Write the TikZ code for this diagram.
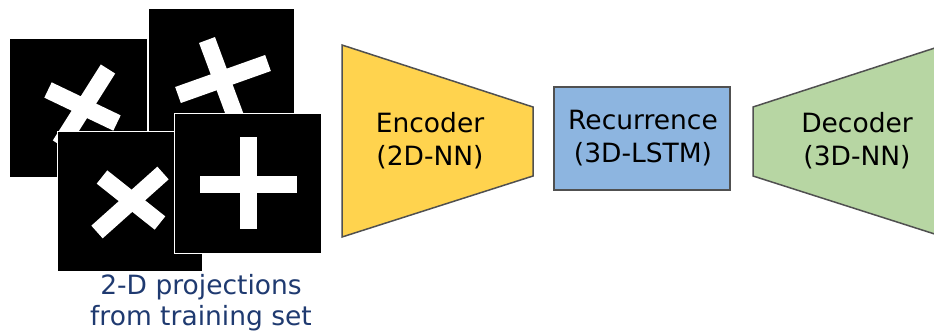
\documentclass[tikz,border=0pt]{standalone}
\usepackage{fontspec}
\setmainfont{DejaVu Sans}
\usepackage{tikz}
\definecolor{EncYellow}{HTML}{FFD34E}
\definecolor{RecBlue}{HTML}{8DB5E0}
\definecolor{DecGreen}{HTML}{B7D6A3}
\definecolor{EdgeGray}{HTML}{505050}
\definecolor{CapBlue}{HTML}{1F3A70}
\tikzset{
  block/.style={draw=EdgeGray, line width=1.5pt},
  label/.style={align=center, font=\fontsize{26.5}{33}\selectfont},
  bar/.style={white, line width=17pt},
  shot/.style={fill=black, draw=white, line width=1pt}
}

\begin{document}
\begin{tikzpicture}[x=1pt,y=-1pt]
\useasboundingbox (0,0) rectangle (934,333);
\clip (0,0) rectangle (934,333);

%%projections
\begin{scope}
\filldraw[shot] (9,38) rectangle (147,177);
\clip (9,38) rectangle (147,177);
\draw[bar] (108,69) -- (60,145);
\draw[bar] (48,90) -- (117,123);
\end{scope}
\begin{scope}
\filldraw[shot] (148,8) rectangle (294,150);
\clip (148,8) rectangle (294,150);
\draw[bar] (207,40) -- (236,118);
\draw[bar] (178,95) -- (268,63);
\end{scope}
\begin{scope}
\filldraw[shot] (57,131) rectangle (202,271);
\clip (57,131) rectangle (202,271);
\draw[bar] (163,173) -- (97,232);
\draw[bar] (102,177) -- (160,223);
\end{scope}
\begin{scope}
\filldraw[shot] (174,113) rectangle (321,253);
\clip (174,113) rectangle (321,253);
\draw[bar] (248,137) -- (248,229);
\draw[bar] (200,184) -- (297,184);
\end{scope}
\node[label, text=CapBlue, font=\fontsize{26.5}{31}\selectfont] (proj) at (201,303) {2-D projections\\from training set};

%%Encoder
\draw[block, fill=EncYellow] (342,45) -- (533,107) -- (533,176) -- (342,237) -- cycle;
\node[label] (enc) at (430,141) {Encoder\\(2D-NN)};

%%Recurrence
\draw[block, fill=RecBlue] (554,87) rectangle (730,190);
\node[label] (rec) at (643,138) {Recurrence\\(3D-LSTM)};

%%Decoder
\draw[block, fill=DecGreen] (944,45) -- (753,107) -- (753,176) -- (944,237) -- cycle;
\node[label] (dec) at (857,141) {Decoder\\(3D-NN)};
\end{tikzpicture}
\end{document}
